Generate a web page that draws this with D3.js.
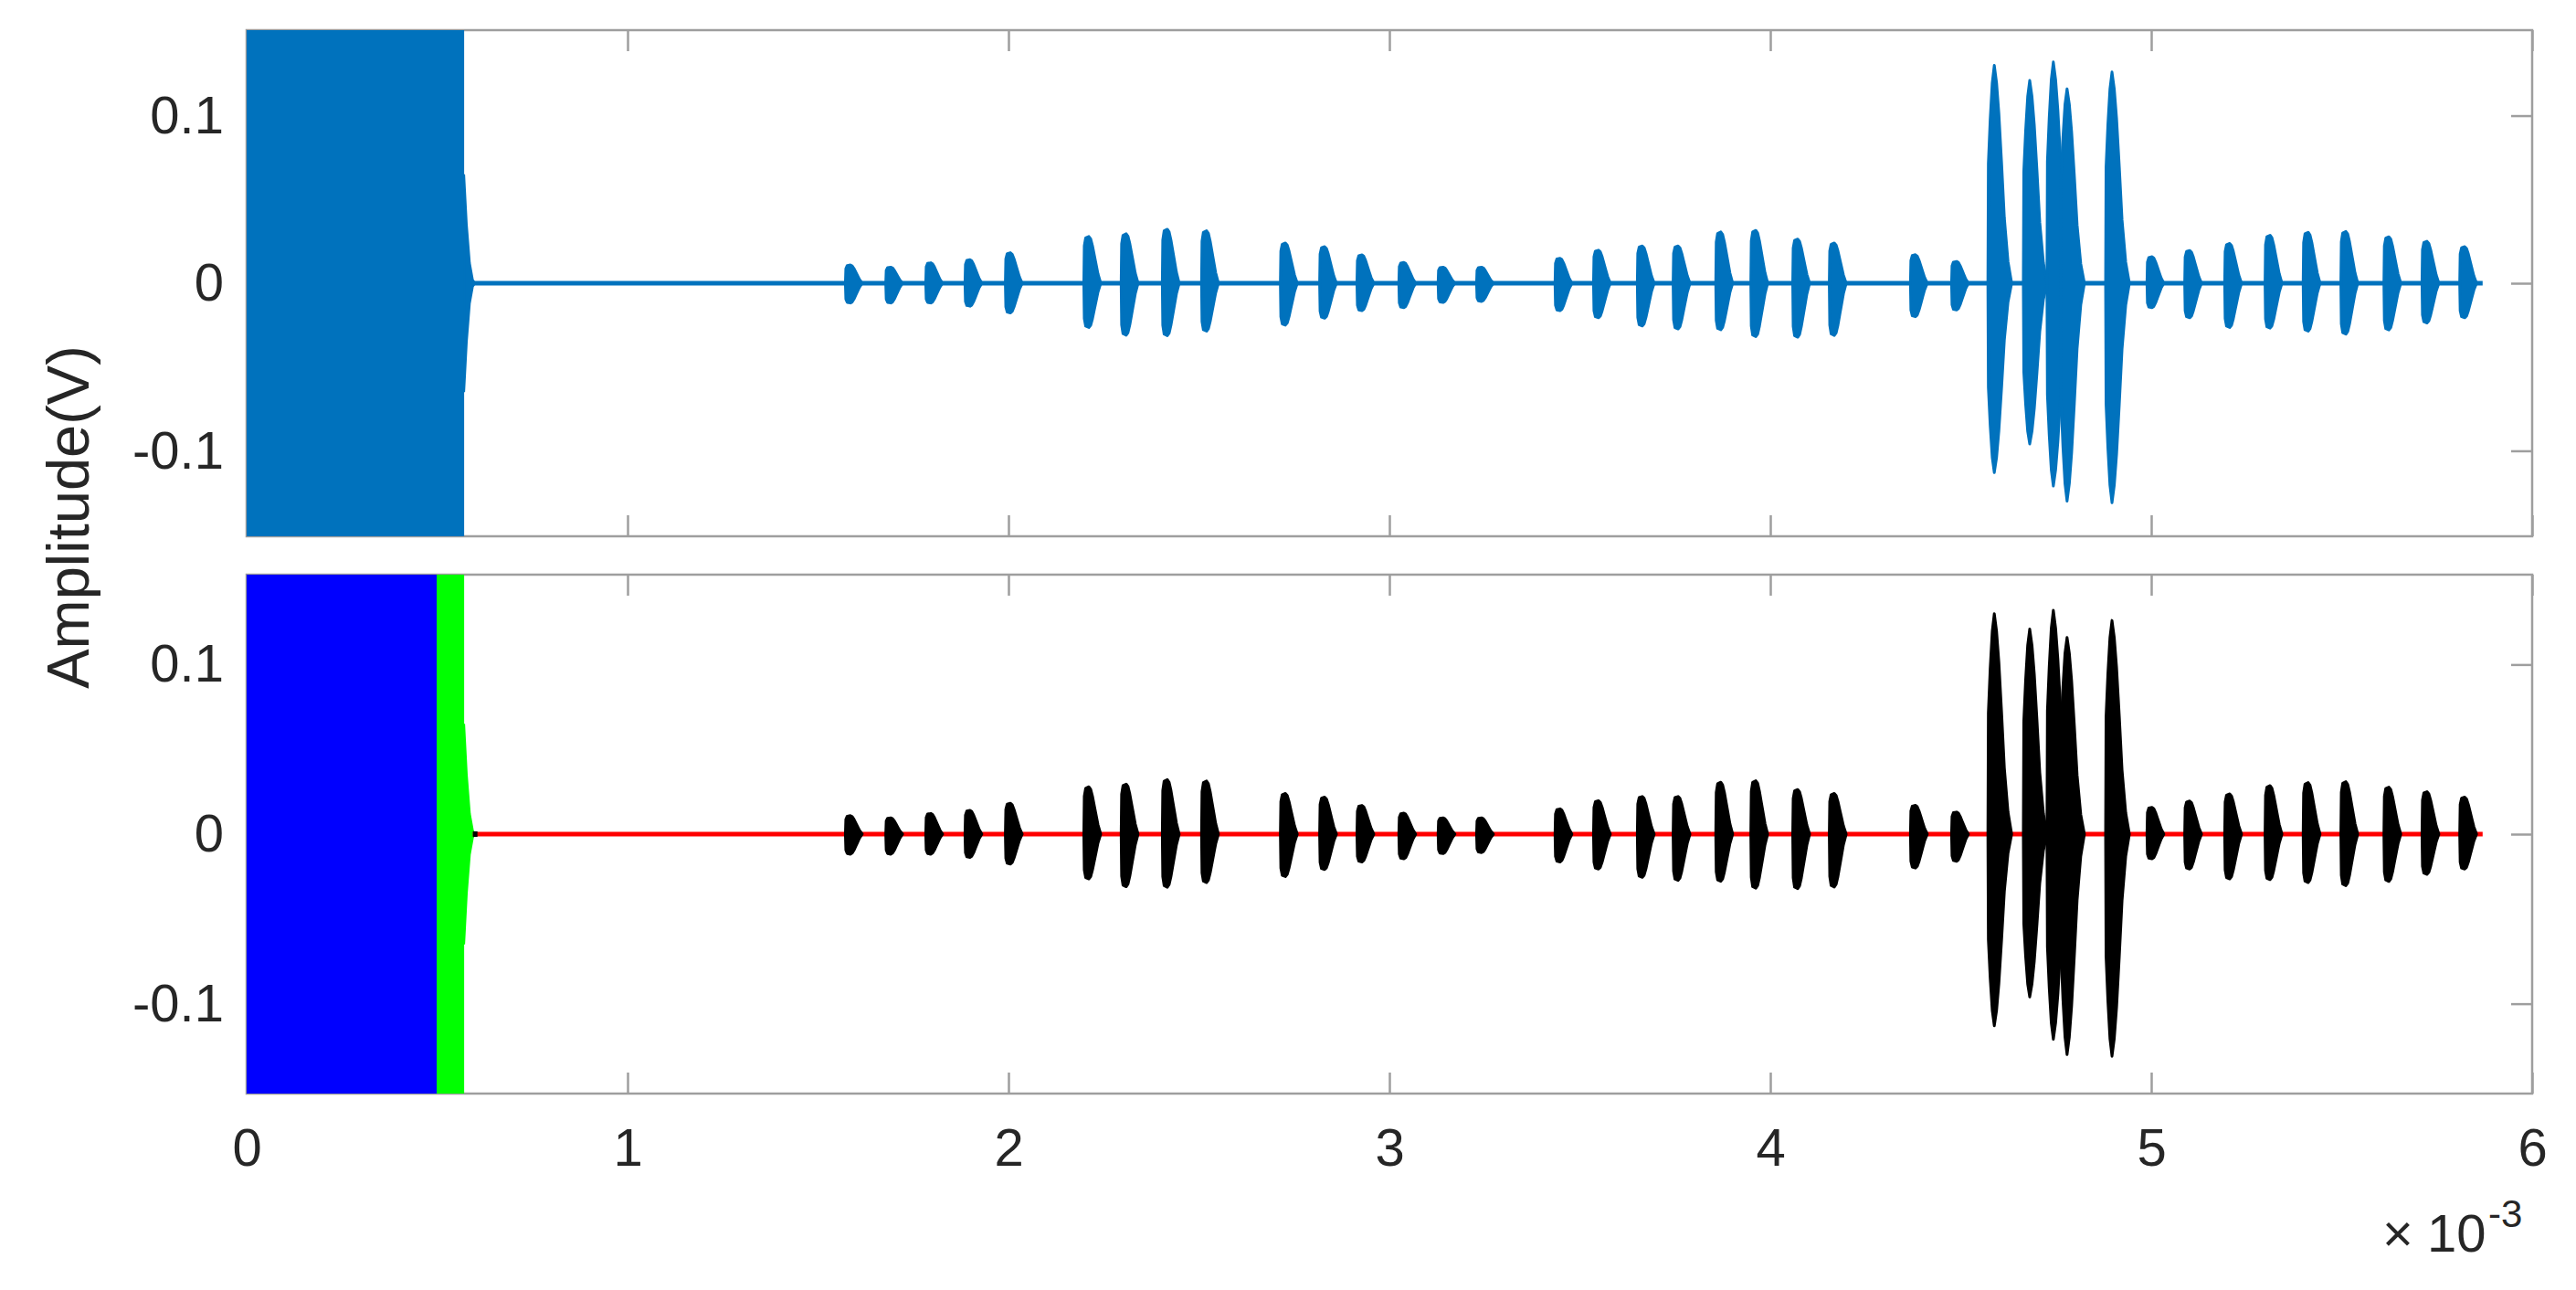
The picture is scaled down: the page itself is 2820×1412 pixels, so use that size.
<!DOCTYPE html>
<html>
<head>
<meta charset="utf-8">
<script src="https://cdn.jsdelivr.net/npm/d3@7"></script>
<style>
  body { margin: 0; background: #fff; }
  text { font-family: "Liberation Sans", Arial, Helvetica, sans-serif; fill: #262626; }
</style>
</head>
<body>
<div id="chart-container"></div>
<script>
// time axis is in units of 1e-3 s
const xTicks = [0, 1, 2, 3, 4, 5, 6];
const yTicks = [-0.1, 0, 0.1];

// echo bursts: time (x1e-3 s), positive and negative peak amplitude (V)
const burstTimes = [
  1.585, 1.691, 1.796, 1.899, 2.005, 2.211, 2.309, 2.417, 2.52, 2.727,
  2.83, 2.928, 3.038, 3.141, 3.242, 3.448, 3.549, 3.664, 3.758, 3.87,
  3.962, 4.072, 4.168, 4.381, 4.489, 4.588, 4.681, 4.743, 4.779, 4.897,
  5.002, 5.101, 5.206, 5.312, 5.412, 5.511, 5.624, 5.724, 5.823
];
const burstUp = [
  0.0109, 0.0096, 0.0122, 0.014, 0.0182, 0.0279, 0.0295, 0.0322, 0.0313, 0.024,
  0.0218, 0.0169, 0.0124, 0.0096, 0.0096, 0.0149, 0.0197, 0.0222, 0.0222, 0.0306,
  0.0315, 0.0263, 0.024, 0.017, 0.013, 0.13, 0.121, 0.132, 0.116, 0.126,
  0.0158, 0.0195, 0.0237, 0.0286, 0.0304, 0.0309, 0.0277, 0.025, 0.0218
];
const burstDown = [
  0.0118, 0.0118, 0.0118, 0.0137, 0.0177, 0.0264, 0.031, 0.0313, 0.0286, 0.025,
  0.0209, 0.0164, 0.0146, 0.0115, 0.0109, 0.0164, 0.0206, 0.0255, 0.0273, 0.0278,
  0.0319, 0.0322, 0.0312, 0.02, 0.016, 0.113, 0.096, 0.121, 0.13, 0.131,
  0.0146, 0.0206, 0.0264, 0.0268, 0.0286, 0.0304, 0.0279, 0.0237, 0.0206
];
// burst envelopes: offset from burst time (x1e-3 s), fraction of peak
const smallBurstShape = [
  [-0.0132, 0], [-0.012, 0.8], [-0.0084, 0.97], [0, 1], [0.0048, 0.95],
  [0.0096, 0.8], [0.0144, 0.6], [0.0192, 0.4], [0.024, 0.2], [0.0312, 0]
];
const largeBurstShape = [
  [-0.0168, 0], [-0.0156, 0.55], [-0.0108, 0.75], [-0.0054, 0.92], [0, 1],
  [0.006, 0.92], [0.012, 0.78], [0.0192, 0.55], [0.0264, 0.3], [0.036, 0.1], [0.0456, 0]
];
const largeBurstLimit = 0.05;

// transmitted pulse (saturates the axes) and its ring-down
const pulseEnd = 0.571;
const bluePartEnd = 0.499;
const ringDown = [[0.571, 0.065], [0.578, 0.035], [0.586, 0.012], [0.594, 0.002], [0.6, 0]];
const noiseStart = 0.594;
const noiseEnd = 5.87;

const W = 2820, H = 1412;
const left = 270, right = 2772;
const panels = [
  { top: 33, bottom: 587, domain: [-0.151, 0.151], labels: false },
  { top: 629, bottom: 1197, domain: [-0.153, 0.153], labels: true }
];
const frameColor = "#9e9e9e";
const tickLen = 23;

const svg = d3.select("#chart-container")
  .append("svg")
  .attr("width", W)
  .attr("height", H);

const x = d3.scaleLinear().domain([0, 6]).range([left, right]);

const bursts = burstTimes.map((t, i) => {
  const shape = burstUp[i] > largeBurstLimit ? largeBurstShape : smallBurstShape;
  return shape.map(([dt, r]) => ({ t: t + dt, hi: r * burstUp[i], lo: -r * burstDown[i] }));
});

panels.forEach((p, k) => {
  const y = d3.scaleLinear().domain(p.domain).range([p.bottom, p.top]);
  const g = svg.append("g");

  // axes box and inward ticks
  g.append("rect")
    .attr("x", left).attr("y", p.top)
    .attr("width", right - left).attr("height", p.bottom - p.top)
    .attr("fill", "none").attr("stroke", frameColor).attr("stroke-width", 2.5);

  const axes = [
    [d3.axisBottom(x).tickValues(xTicks).tickFormat(d3.format("d")), `translate(0,${p.bottom})`, p.labels],
    [d3.axisTop(x).tickValues(xTicks), `translate(0,${p.top})`, false],
    [d3.axisLeft(y).tickValues(yTicks).tickFormat(d => d === 0 ? "0" : (d < 0 ? "-" : "") + Math.abs(d)),
      `translate(${left},0)`, true],
    [d3.axisRight(y).tickValues(yTicks), `translate(${right},0)`, false]
  ];
  axes.forEach(([ax, tr, showText], j) => {
    ax.tickSize(-tickLen).tickPadding(j === 0 ? 38 : 25);
    if (!showText) ax.tickFormat("");
    const a = g.append("g").attr("transform", tr).call(ax);
    a.select(".domain").remove();
    a.selectAll(".tick line").attr("stroke", frameColor).attr("stroke-width", 2.5);
    a.selectAll(".tick text").attr("fill", "#262626")
      .style("font-family", '"Liberation Sans", Arial, sans-serif');
    a.attr("font-size", 58);
  });

  // data, clipped to the axes
  const clipId = "clip" + k;
  svg.append("clipPath").attr("id", clipId)
    .append("rect")
    .attr("x", left).attr("y", p.top)
    .attr("width", right - left).attr("height", p.bottom - p.top);
  const d = svg.append("g").attr("clip-path", `url(#${clipId})`);

  const area = d3.area()
    .x(v => x(v.t))
    .y0(v => y(v.lo))
    .y1(v => y(v.hi));

  const pulseColor = k === 0 ? "#0072BD" : "#00FF00";
  const lineColor = k === 0 ? "#0072BD" : "#FF0000";
  const burstColor = k === 0 ? "#0072BD" : "#000000";

  // saturated pulse
  d.append("rect")
    .attr("x", x(0)).attr("y", p.top)
    .attr("width", x(pulseEnd) - x(0)).attr("height", p.bottom - p.top)
    .attr("fill", pulseColor);
  if (k === 1) {
    d.append("rect")
      .attr("x", x(0)).attr("y", p.top)
      .attr("width", x(bluePartEnd) - x(0)).attr("height", p.bottom - p.top)
      .attr("fill", "#0000FF");
  }
  d.append("path")
    .datum(ringDown.map(([t, a]) => ({ t, hi: a, lo: -a })))
    .attr("d", area)
    .attr("fill", pulseColor).attr("stroke", pulseColor).attr("stroke-width", 2);

  // background line between echoes
  d.append("line")
    .attr("x1", x(noiseStart)).attr("x2", x(noiseEnd))
    .attr("y1", y(0)).attr("y2", y(0))
    .attr("stroke", lineColor).attr("stroke-width", 5);
  if (k === 1) {
    d.append("line")
      .attr("x1", x(noiseStart)).attr("x2", x(noiseStart + 0.012))
      .attr("y1", y(0)).attr("y2", y(0))
      .attr("stroke", "#000").attr("stroke-width", 6);
  }

  // echo bursts
  d.selectAll("path.burst")
    .data(bursts)
    .join("path")
    .attr("class", "burst")
    .attr("d", area)
    .attr("fill", burstColor)
    .attr("stroke", burstColor)
    .attr("stroke-width", 3)
    .attr("stroke-linejoin", "round");
});

// y label
svg.append("text")
  .attr("transform", "translate(97,566) rotate(-90)")
  .attr("text-anchor", "middle")
  .attr("font-size", 65)
  .text("Amplitude(V)");

// exponent of the time axis
const expo = svg.append("text").attr("font-size", 58);
expo.append("tspan").attr("x", 2608).attr("y", 1370).text("×");
expo.append("tspan").attr("x", 2657).attr("y", 1370).text("10");
expo.append("tspan").attr("x", 2724).attr("y", 1343).attr("font-size", 42).text("-3");
</script>
</body>
</html>
